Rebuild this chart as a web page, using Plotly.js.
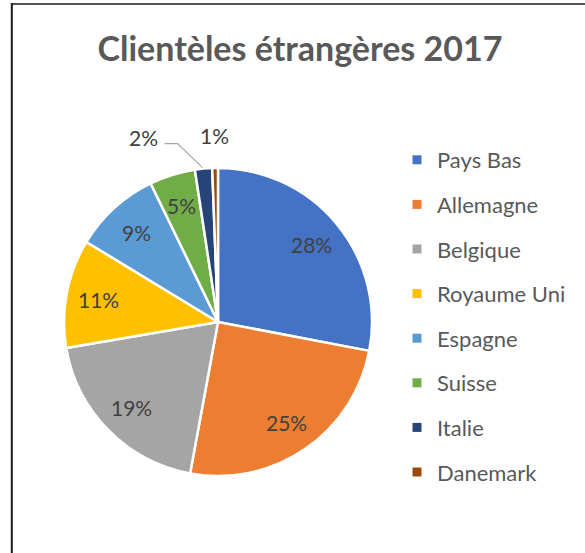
<!DOCTYPE html>
<html>
<head>
<meta charset="utf-8">
<script src="https://cdn.plot.ly/plotly-3.0.1.min.js"></script>
<style>
  html, body { margin: 0; padding: 0; background: #fff; }
  #chart { width: 585px; height: 553px; }
</style>
</head>
<body>
<div id="chart"></div>
<script>
// ---- data ----
var categories = ["Pays Bas", "Allemagne", "Belgique", "Royaume Uni", "Espagne", "Suisse", "Italie", "Danemark"];
var shares = [28.0, 24.9, 19.4, 11.4, 9.1, 4.8, 1.8, 0.6];
var colors = ["#4472C4", "#ED7D31", "#A5A5A5", "#FFC000", "#5B9BD5", "#70AD47", "#264478", "#9E480E"];
var titleText = "Clientèles étrangères 2017";

// ---- geometry (pixels) ----
var W = 585, H = 553;
var CX = 218, CY = 322, R = 154;
function px(x) { return x / W; }
function py(y) { return 1 - y / H; }

var total = shares.reduce(function (a, b) { return a + b; }, 0);
var labelFont = { family: "Lato, 'Open Sans', sans-serif", size: 21, color: "#404040" };

// slice label annotations computed from the data
var annotations = [];
var shapes = [];
var cum = 0;
shares.forEach(function (v, i) {
  var a0 = cum / total * 2 * Math.PI;
  cum += v;
  var a1 = cum / total * 2 * Math.PI;
  var am = (a0 + a1) / 2;
  var txt = Math.round(v / total * 100) + "%";
  var sx = Math.sin(am), sy = -Math.cos(am);
  if (v / total >= 0.03) {
    annotations.push({
      xref: "paper", yref: "paper", showarrow: false,
      x: px(CX + 0.79 * R * sx), y: py(CY + 0.79 * R * sy),
      xanchor: "center", yanchor: "middle", text: txt, font: labelFont
    });
  } else if (i === shares.length - 1) {
    annotations.push({
      xref: "paper", yref: "paper", showarrow: false,
      x: px(CX + 1.21 * R * sx), y: py(CY + 1.21 * R * sy),
      xanchor: "center", yanchor: "middle", text: txt, font: labelFont
    });
  } else {
    var ex = CX + R * sx, ey = CY + R * sy;
    shapes.push({
      type: "path", xref: "paper", yref: "paper",
      path: "M " + px(ex - 39) + " " + py(ey - 25) + " L " + px(ex - 26) + " " + py(ey - 25) +
            " L " + px(ex - 1) + " " + py(ey - 1),
      line: { color: "#A6A6A6", width: 1.2 }
    });
    annotations.push({
      xref: "paper", yref: "paper", showarrow: false,
      x: px(ex - 44), y: py(ey - 31),
      xanchor: "right", yanchor: "middle", text: txt, font: labelFont
    });
  }
});

// chart frame
shapes.push({ type: "line", xref: "paper", yref: "paper", x0: px(11.8), x1: px(11.8), y0: py(3), y1: py(553), line: { color: "#1a1a1a", width: 2 } });
shapes.push({ type: "line", xref: "paper", yref: "paper", x0: px(11), x1: px(585), y0: py(4), y1: py(4), line: { color: "#1a1a1a", width: 1.6 } });

var traces = [{
  type: "pie",
  labels: categories,
  values: shares,
  sort: false,
  direction: "clockwise",
  rotation: 0,
  textinfo: "none",
  hoverinfo: "label+percent",
  showlegend: false,
  marker: { colors: colors, line: { color: "#ffffff", width: 2.5 } },
  domain: { x: [px(CX - R), px(CX + R)], y: [py(CY + R), py(CY - R)] }
}];

// legend entries
categories.forEach(function (c, i) {
  traces.push({
    type: "scatter", mode: "markers", x: [null], y: [null],
    name: c, legendgroup: "g" + i, showlegend: true,
    marker: { symbol: "square", size: 9, color: colors[i] },
    hoverinfo: "skip"
  });
});

var layout = {
  width: W, height: H,
  margin: { l: 0, r: 0, t: 0, b: 0 },
  paper_bgcolor: "#ffffff", plot_bgcolor: "#ffffff",
  title: {
    text: "<b>" + titleText + "</b>",
    x: px(300), xanchor: "center",
    y: py(49), yanchor: "middle", yref: "paper",
    font: { family: "Lato, 'Open Sans', sans-serif", size: 34, color: "#595959" }
  },
  xaxis: { visible: false }, yaxis: { visible: false },
  showlegend: true,
  legend: {
    x: px(397), xanchor: "left",
    y: py(139), yanchor: "top",
    tracegroupgap: 13,
    font: { family: "Lato, 'Open Sans', sans-serif", size: 22, color: "#595959" },
    bgcolor: "rgba(0,0,0,0)"
  },
  annotations: annotations,
  shapes: shapes
};

Plotly.newPlot("chart", traces, layout, { displayModeBar: false, staticPlot: true });
</script>
</body>
</html>
